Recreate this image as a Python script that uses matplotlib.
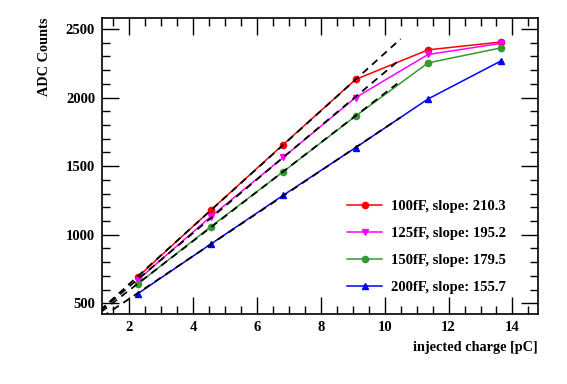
import numpy as np
import matplotlib
matplotlib.use("Agg")
import matplotlib.pyplot as plt
from matplotlib.ticker import MultipleLocator

plt.rcParams['font.family'] = ['Liberation Serif', 'DejaVu Serif']
plt.rcParams['font.weight'] = 'bold'

# injected charge [pC]
charge = [2.27, 4.55, 6.82, 9.09, 11.36, 13.64]

# ADC counts per feedback capacitance
adc_100 = [692, 1178, 1657, 2132, 2348, 2405]
adc_125 = [670, 1131, 1563, 2000, 2314, 2395]
adc_150 = [641, 1058, 1459, 1865, 2253, 2362]
adc_200 = [570, 931, 1287, 1635, 1990, 2267]

labels = ['100fF', '125fF', '150fF', '200fF']
slopes = [210.3, 195.2, 179.5, 155.7]
colors = ['#ff0000', '#ff00ff', '#339933', '#0000ff']
markers = ['o', 'v', 'o', '^']

fig = plt.figure(figsize=(5.67, 3.84), dpi=100)
ax = fig.add_axes([102/567, 1 - 314/384, 436/567, 296/384])

series = [adc_100, adc_125, adc_150, adc_200]
x = np.array(charge)
xfit = np.array([0.5, 10.5])
for adc, lab, s, c, m in zip(series, labels, slopes, colors, markers):
    y = np.array(adc)
    ax.plot(x, y, color=c, marker=m, markersize=4.5, lw=1.1,
            label=lab + ', slope: ' + str(s), zorder=3)
    # linear fit on the first four points, slope as quoted
    b = np.mean(y[:4] - s * x[:4])
    ax.plot(xfit, s * xfit + b, color='black', ls=(0, (4, 3)), lw=1.3, zorder=4)

ax.set_xlim(1.15, 14.8)
ax.set_ylim(422, 2580)
ax.xaxis.set_major_locator(MultipleLocator(2))
ax.xaxis.set_minor_locator(MultipleLocator(0.5))
ax.yaxis.set_major_locator(MultipleLocator(500))
ax.yaxis.set_minor_locator(MultipleLocator(100))
ax.tick_params(which='both', direction='in', top=True, right=True, labelsize=10.5, pad=5)
ax.tick_params(which='major', length=12, width=1)
ax.tick_params(which='minor', length=6, width=1)
for sp in ax.spines.values():
    sp.set_linewidth(1.2)

fig.text(538/567, 1 - 348/384, 'injected charge [pC]', ha='right', va='center',
         fontsize=10.3, fontweight='bold')
fig.text(45/567, 1 - 18/384, 'ADC Counts', ha='center', va='top', rotation=90,
         fontsize=10.3, fontweight='bold')

ax.legend(loc='lower left', bbox_to_anchor=(347/567, 1 - 294/384),
          bbox_transform=fig.transFigure, frameon=False, fontsize=10.5,
          handlelength=2.4, labelspacing=0.95, handletextpad=0.6, borderpad=0,
          borderaxespad=0)

fig.savefig('out.png', dpi=100)
